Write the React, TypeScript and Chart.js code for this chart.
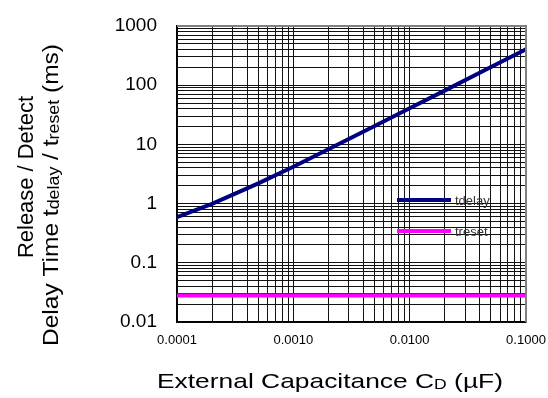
import React, { useEffect, useRef } from "react";
import { Chart, registerables } from "chart.js";

Chart.register(...registerables);

const capacitance = [0.0001, 0.0002, 0.0005, 0.001, 0.002, 0.005, 0.01, 0.02, 0.05, 0.1];
const tdelay = [0.59, 0.99, 2.2, 4.2, 8.3, 20.4, 40.7, 81, 203, 405];
const treset = [0.028, 0.028, 0.028, 0.028, 0.028, 0.028, 0.028, 0.028, 0.028, 0.028];

const xMajorTicks = [0.0001, 0.001, 0.01, 0.1];
const xTickLabels = ["0.0001", "0.0010", "0.0100", "0.1000"];
const yMajorTicks = [0.01, 0.1, 1, 10, 100, 1000];
const yTickLabels = ["0.01", "0.1", "1", "10", "100", "1000"];
const minorSteps = [1, 2, 3, 4, 5, 6, 7, 8, 9];

const seriesNames = ["tdelay", "treset"];
const seriesColors = ["#000080", "#FF00FF"];

const FONT = "Arial, 'Liberation Sans', sans-serif";

function buildTicks(majors: number[]) {
  const out: number[] = [];
  for (let i = 0; i < majors.length - 1; i++) {
    for (const s of minorSteps) out.push(parseFloat((majors[i] * s).toPrecision(6)));
  }
  out.push(majors[majors.length - 1]);
  return out;
}

function labelFor(v: number, majors: number[], labels: string[]) {
  for (let i = 0; i < majors.length; i++) {
    if (Math.abs(v - majors[i]) / majors[i] < 1e-6) return labels[i];
  }
  return "";
}

type Part = { t: string; sub?: boolean };

// draws text centred at (0, baseline 0) in the current transform, stretched to targetWidth
function drawRich(ctx: CanvasRenderingContext2D, parts: Part[], size: number, subSize: number, targetWidth: number) {
  let w = 0;
  for (const p of parts) {
    ctx.font = `${p.sub ? subSize : size}px ${FONT}`;
    w += ctx.measureText(p.t).width;
  }
  const sx = targetWidth / w;
  ctx.save();
  ctx.scale(sx, 1);
  let x = -w / 2;
  ctx.textAlign = "left";
  ctx.textBaseline = "alphabetic";
  for (const p of parts) {
    ctx.font = `${p.sub ? subSize : size}px ${FONT}`;
    ctx.fillText(p.t, x, p.sub ? 1 : 0);
    x += ctx.measureText(p.t).width;
  }
  ctx.restore();
}

const decorPlugin = {
  id: "decor",
  afterDraw(chart: any) {
    const ctx: CanvasRenderingContext2D = chart.ctx;
    const { left, right, top, bottom } = chart.chartArea;
    ctx.save();
    // gray top/right frame
    ctx.strokeStyle = "#808080";
    ctx.lineWidth = 2;
    ctx.beginPath();
    ctx.moveTo(left, top);
    ctx.lineTo(right, top);
    ctx.lineTo(right, bottom);
    ctx.stroke();

    // legend inside plot
    const legY = [200, 231];
    for (let i = 0; i < seriesNames.length; i++) {
      ctx.strokeStyle = seriesColors[i];
      ctx.lineWidth = 4;
      ctx.beginPath();
      ctx.moveTo(397, legY[i]);
      ctx.lineTo(451, legY[i]);
      ctx.stroke();
      ctx.fillStyle = "#333";
      ctx.font = `13px ${FONT}`;
      ctx.textAlign = "left";
      ctx.textBaseline = "middle";
      ctx.fillText(seriesNames[i], 455, legY[i] + 1);
    }

    ctx.fillStyle = "#000";
    // x title
    ctx.save();
    ctx.translate(330, 388);
    drawRich(ctx, [{ t: "External Capacitance C" }, { t: "D", sub: true }, { t: " (\u00b5F)" }], 21, 14, 346);
    ctx.restore();

    // y title (rotated, two lines)
    ctx.save();
    ctx.translate(33, 177);
    ctx.rotate(-Math.PI / 2);
    drawRich(ctx, [{ t: "Release / Detect" }], 22, 22, 162);
    ctx.restore();
    ctx.save();
    ctx.translate(58, 195);
    ctx.rotate(-Math.PI / 2);
    drawRich(
      ctx,
      [{ t: "Delay Time t" }, { t: "delay", sub: true }, { t: " / t" }, { t: "reset", sub: true }, { t: " (ms)" }],
      22,
      16,
      302
    );
    ctx.restore();
    ctx.restore();
  },
};

export default function App() {
  const ref = useRef<HTMLCanvasElement>(null);
  useEffect(() => {
    document.body.style.margin = "0";
    const xTicks = buildTicks(xMajorTicks);
    const yTicks = buildTicks(yMajorTicks);
    const chart = new Chart(ref.current as HTMLCanvasElement, {
      type: "line",
      data: {
        datasets: [
          {
            label: seriesNames[0],
            data: capacitance.map((c, i) => ({ x: c, y: tdelay[i] })),
            borderColor: seriesColors[0],
            borderWidth: 4,
            pointRadius: 0,
            tension: 0,
          },
          {
            label: seriesNames[1],
            data: capacitance.map((c, i) => ({ x: c, y: treset[i] })),
            borderColor: seriesColors[1],
            borderWidth: 4,
            pointRadius: 0,
          },
        ],
      },
      options: {
        responsive: false,
        animation: false,
        devicePixelRatio: 1,
        layout: { padding: { top: 26, right: 22, left: 0, bottom: 0 } },
        plugins: { legend: { display: false }, tooltip: { enabled: false } },
        scales: {
          x: {
            type: "logarithmic",
            min: 0.0001,
            max: 0.1,
            afterBuildTicks: (axis: any) => {
              axis.ticks = xTicks.map((v) => ({ value: v }));
            },
            afterFit: (axis: any) => {
              axis.height = 76;
              axis.paddingLeft = 0;
              axis.paddingRight = 0;
              axis.paddingTop = 0;
              axis.paddingBottom = 0;
            },
            ticks: {
              autoSkip: false,
              maxRotation: 0,
              padding: 11,
              color: "#000",
              font: { family: FONT, size: 13 },
              callback: (v: any) => labelFor(Number(v), xMajorTicks, xTickLabels),
            },
            grid: { color: "#111", lineWidth: 1, drawTicks: false },
            border: { display: true, color: "#000", width: 1.5 },
          },
          y: {
            type: "logarithmic",
            min: 0.01,
            max: 1000,
            afterBuildTicks: (axis: any) => {
              axis.ticks = yTicks.map((v) => ({ value: v }));
            },
            afterFit: (axis: any) => {
              axis.width = 177;
              axis.paddingLeft = 0;
              axis.paddingRight = 0;
              axis.paddingTop = 0;
              axis.paddingBottom = 0;
            },
            ticks: {
              autoSkip: false,
              padding: 20,
              color: "#000",
              font: { family: FONT, size: 19 },
              callback: (v: any) => labelFor(Number(v), yMajorTicks, yTickLabels),
            },
            grid: { color: "#111", lineWidth: 1, drawTicks: false },
            border: { display: true, color: "#000", width: 1.5 },
          },
        },
      },
      plugins: [decorPlugin],
    } as any);
    return () => chart.destroy();
  }, []);
  return (
    <div style={{ position: "absolute", left: 0, top: 0, width: 548, height: 398, background: "#fff" }}>
      <canvas ref={ref} width={548} height={398} />
    </div>
  );
}
